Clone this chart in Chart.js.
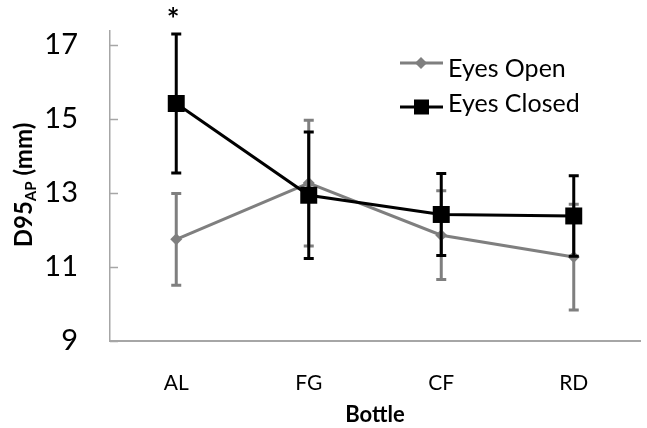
<!DOCTYPE html>
<html>
<head>
<meta charset="utf-8">
<script src="https://cdn.jsdelivr.net/npm/chart.js@4"></script>
<style>
html,body{margin:0;padding:0;background:#fff;overflow:hidden;}
#wrap{width:652px;height:428px;position:relative;}
</style>
</head>
<body>
<div id="wrap"><canvas id="c"></canvas></div>
<script>
const categories = ['AL', 'FG', 'CF', 'RD'];
const openMean = [11.75, 13.27, 11.86, 11.27];
const openErr = [1.24, 1.70, 1.20, 1.43];
const closedMean = [15.42, 12.94, 12.42, 12.38];
const closedErr = [1.88, 1.71, 1.11, 1.09];
const yTicks = [9, 11, 13, 15, 17];
const seriesNames = ['Eyes Open', 'Eyes Closed'];
const significant = ['AL'];

const GRAY = '#7f7f7f';
const BLACK = '#000000';
const AXIS = '#a6a6a6';
const FONT = 'Lato, "Open Sans", sans-serif';

const errors = [openErr, closedErr];

const errorBarPlugin = {
  id: 'errorBars',
  afterDatasetDraw(chart, args) {
    const i = args.index;
    const meta = args.meta;
    const ds = chart.data.datasets[i];
    const y = chart.scales.y;
    const ctx = chart.ctx;
    ctx.save();
    ctx.strokeStyle = ds.borderColor;
    ctx.lineWidth = 3;
    meta.data.forEach((pt, k) => {
      const v = ds.data[k];
      const e = errors[i][k];
      const yt = y.getPixelForValue(v + e);
      const yb = y.getPixelForValue(v - e);
      const x = pt.x;
      ctx.beginPath();
      ctx.moveTo(x, yt); ctx.lineTo(x, yb);
      ctx.moveTo(x - 5, yt); ctx.lineTo(x + 5, yt);
      ctx.moveTo(x - 5, yb); ctx.lineTo(x + 5, yb);
      ctx.stroke();
    });
    ctx.restore();
  }
};

const decoPlugin = {
  id: 'deco',
  afterDraw(chart) {
    const ctx = chart.ctx;
    const y = chart.scales.y;
    const x = chart.scales.x;
    const area = chart.chartArea;
    ctx.save();
    // inside tick marks on y axis
    ctx.strokeStyle = AXIS;
    ctx.lineWidth = 1.5;
    yTicks.forEach(v => {
      const py = Math.round(y.getPixelForValue(v)) + 0.5;
      ctx.beginPath();
      ctx.moveTo(area.left, py);
      ctx.lineTo(area.left + 8, py);
      ctx.stroke();
    });
    // y axis title with subscript
    ctx.fillStyle = '#000';
    ctx.translate(32, 185);
    ctx.rotate(-Math.PI / 2);
    ctx.textBaseline = 'alphabetic';
    ctx.textAlign = 'left';
    const mainFont = 'bold 24px ' + FONT;
    const subFont = 'bold 15px ' + FONT;
    ctx.font = mainFont; const w1 = ctx.measureText('D95').width;
    ctx.font = subFont; const w2 = ctx.measureText('AP').width;
    ctx.font = mainFont; const w3 = ctx.measureText(' (mm)').width;
    const total = w1 + w2 + w3;
    let sx = -total / 2;
    ctx.font = mainFont; ctx.fillText('D95', sx, 0); sx += w1;
    ctx.font = subFont; ctx.fillText('AP', sx, 4); sx += w2;
    ctx.font = mainFont; ctx.fillText(' (mm)', sx, 0);
    ctx.setTransform(1, 0, 0, 1, 0, 0);
    // significance asterisk
    ctx.font = 'bold 30px ' + FONT;
    ctx.textAlign = 'center';
    ctx.textBaseline = 'alphabetic';
    significant.forEach(c => {
      const px = x.getPixelForValue(categories.indexOf(c));
      ctx.fillText('*', px - 3, 30);
    });
    // legend
    const items = [
      {name: seriesNames[0], color: GRAY, style: 'diamond', ly: 63, ty: 77},
      {name: seriesNames[1], color: BLACK, style: 'square', ly: 107, ty: 112}
    ];
    items.forEach(it => {
      ctx.strokeStyle = it.color;
      ctx.fillStyle = it.color;
      ctx.lineWidth = 3;
      ctx.beginPath();
      ctx.moveTo(400, it.ly); ctx.lineTo(443, it.ly);
      ctx.stroke();
      ctx.beginPath();
      if (it.style === 'diamond') {
        ctx.moveTo(421, it.ly - 6); ctx.lineTo(427, it.ly); ctx.lineTo(421, it.ly + 6); ctx.lineTo(415, it.ly);
        ctx.closePath();
      } else {
        ctx.rect(414, it.ly - 7.5, 15, 15);
      }
      ctx.fill();
      ctx.fillStyle = '#000';
      ctx.font = '25px ' + FONT;
      ctx.textAlign = 'left';
      ctx.textBaseline = 'alphabetic';
      ctx.fillText(it.name, 448, it.ty);
    });
    ctx.restore();
  }
};

new Chart(document.getElementById('c'), {
  type: 'line',
  data: {
    labels: categories,
    datasets: [
      {
        label: seriesNames[0], data: openMean, borderColor: GRAY, backgroundColor: GRAY,
        borderWidth: 3, pointStyle: 'rectRot', pointRadius: 6, pointBorderWidth: 0,
        tension: 0, order: 1
      },
      {
        label: seriesNames[1], data: closedMean, borderColor: BLACK, backgroundColor: BLACK,
        borderWidth: 3, pointStyle: 'rect', pointRadius: 12, pointBorderWidth: 0,
        tension: 0, order: 0
      }
    ]
  },
  options: {
    responsive: true,
    maintainAspectRatio: false,
    animation: false,
    events: [],
    layout: {padding: {top: 31, left: 0, right: 0, bottom: 0}},
    plugins: {legend: {display: false}, tooltip: {enabled: false}},
    scales: {
      x: {
        type: 'category',
        offset: true,
        grid: {display: false, drawTicks: false},
        border: {display: true, color: AXIS, width: 2},
        ticks: {font: {family: FONT, size: 21}, color: '#000', padding: 30},
        title: {display: true, text: 'Bottle', color: '#000', font: {family: FONT, size: 22, weight: 'bold'}, padding: {top: 0, bottom: 0}},
        afterFit: s => { s.height = 87; s.paddingLeft = 0; s.paddingRight = 0; }
      },
      y: {
        min: 9,
        max: 17.38,
        afterBuildTicks: s => { s.ticks = yTicks.map(v => ({value: v})); },
        grid: {display: false, drawTicks: false},
        border: {display: true, color: AXIS, width: 1.5},
        ticks: {font: {family: FONT, size: 29}, color: '#000', padding: 32},
        afterFit: s => { s.width = 110; s.paddingTop = 0; s.paddingBottom = 0; }
      }
    }
  },
  plugins: [errorBarPlugin, decoPlugin]
});
</script>
</body>
</html>
